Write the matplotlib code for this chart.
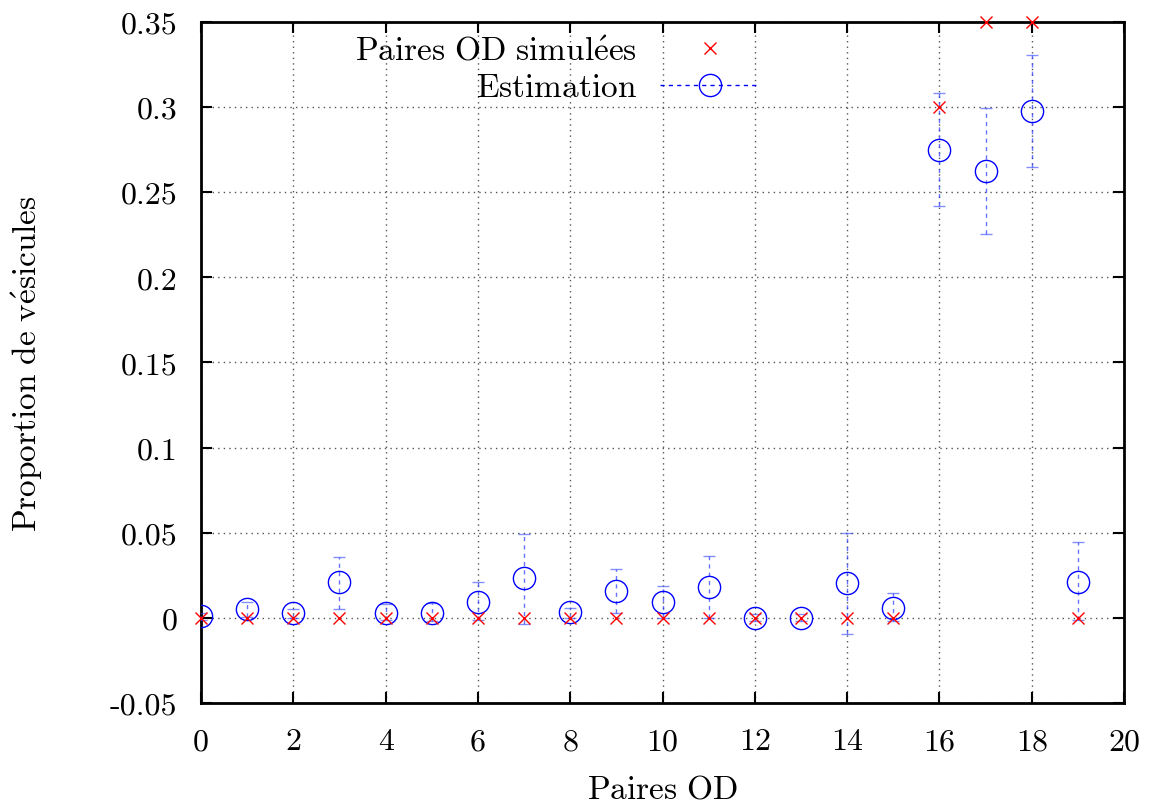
import numpy as np
import matplotlib.pyplot as plt
from matplotlib.lines import Line2D

plt.rcParams['mathtext.fontset'] = 'cm'
plt.rcParams['font.family'] = ['cmr10', 'DejaVu Serif']
plt.rcParams['axes.unicode_minus'] = False

# donnees
paires = np.arange(20)
simulees = [0, 0, 0, 0, 0, 0, 0, 0, 0, 0, 0, 0, 0, 0, 0, 0, 0.30, 0.35, 0.35, 0]
estimation = [0.001, 0.005, 0.003, 0.021, 0.003, 0.003, 0.0095, 0.0233, 0.0033, 0.016,
              0.0092, 0.0182, 0.0, 0.0, 0.0206, 0.006, 0.2751, 0.2624, 0.2976, 0.021]
err_haut = [0.003, 0.0095, 0.005, 0.036, 0.008, 0.009, 0.021, 0.049, 0.006, 0.0286,
            0.0186, 0.0366, 0.002, 0.002, 0.050, 0.0147, 0.3085, 0.2996, 0.3306, 0.0445]
err_bas = [-0.001, 0.0005, 0.0, 0.005, -0.001, -0.002, -0.001, -0.0035, 0.0, 0.003,
           0.0, 0.0, -0.002, -0.002, -0.0092, -0.002, 0.2418, 0.2255, 0.265, -0.001]

est = np.array(estimation)
yerr = [est - np.array(err_bas), np.array(err_haut) - est]

xticks = np.arange(0, 21, 2)
yticks = [-0.05, 0, 0.05, 0.1, 0.15, 0.2, 0.25, 0.3, 0.35]
ytick_labels = ['-0.05', '0', '0.05', '0.1', '0.15', '0.2', '0.25', '0.3', '0.35']

fig = plt.figure(figsize=(11.54, 8.12), dpi=100)
ax = fig.add_axes([0.1742, 0.133, 0.7998, 0.8387])

ax.plot(paires, simulees, ls='none', marker='x', color='red', ms=8, mew=1.0,
        clip_on=False, zorder=4)
eb = ax.errorbar(paires, estimation, yerr=yerr, fmt='o', mfc='none', mec='blue',
                 ms=16, mew=1.0, ecolor='#3344ff', elinewidth=1.0, capsize=4,
                 capthick=1.0, zorder=3)
for line in eb[2]:
    line.set_linestyle((0, (3, 3)))
    line.set_alpha(0.75)
for cap in eb[1]:
    cap.set_alpha(0.6)

ax.set_xlim(0, 20)
ax.set_ylim(-0.05, 0.35)
ax.set_xticks(xticks)
ax.set_xticklabels([str(v) for v in xticks])
ax.set_yticks(yticks)
ax.set_yticklabels(ytick_labels)
ax.tick_params(direction='in', length=8, width=1.5, top=True, right=True,
               labelsize=23)
ax.tick_params(axis='y', pad=17)
ax.tick_params(axis='x', pad=18)
for s in ax.spines.values():
    s.set_linewidth(2)
ax.grid(True, ls=(0, (1, 3)), color='#555555', lw=1)

ax.set_xlabel(r'$\mathrm{Paires\ OD}$', fontsize=24, labelpad=14)
ax.set_ylabel(r'$\mathrm{Proportion\ de\ v\acute{e}sicules}$', fontsize=24, labelpad=47)

h1 = Line2D([], [], ls='none', marker='x', color='red', ms=8, mew=1.0)
h2 = Line2D([], [], ls=(0, (3, 3)), color='blue', lw=1, marker='o', mfc='none',
            mec='blue', ms=16)
ax.legend([h1, h2], [r'$\mathrm{Paires\ OD\ simul\acute{e}es}$', r'$\mathrm{Estimation}$'],
          loc='upper right', bbox_to_anchor=(760 / 1154, 1 - 37 / 812),
          bbox_transform=fig.transFigure, borderaxespad=0, borderpad=0,
          frameon=False, markerfirst=False, fontsize=24, handlelength=3.0,
          labelspacing=0.22, handletextpad=0.7)

plt.savefig('out.png', dpi=100)
